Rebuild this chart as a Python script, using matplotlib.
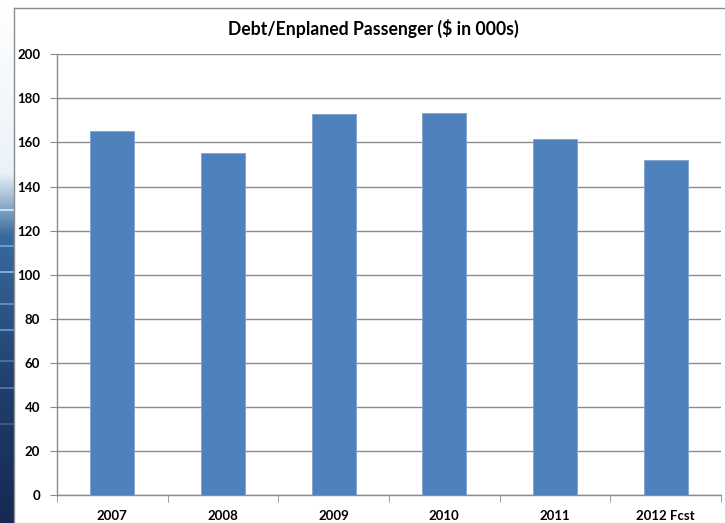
import numpy as np
import matplotlib.pyplot as plt

# Debt per enplaned passenger, $ thousands
years = ['2007', '2008', '2009', '2010', '2011', '2012 Fcst']
debt = [165, 155, 173, 173.5, 161.5, 152]

plt.rcParams['font.family'] = ['Lato', 'DejaVu Sans']
plt.rcParams['font.weight'] = 'bold'

fig = plt.figure(figsize=(7.25, 5.23), dpi=100)
fig.patch.set_facecolor('white')

# slide background strip on the left edge
bg = fig.add_axes([0, 0, 14 / 725, 1])
rows = np.linspace(0, 1, 523)
stops = [0, 0.33, 0.45, 0.75, 1]
r = np.interp(rows, stops, [1.0, 0.92, 0.22, 0.12, 0.09])
g = np.interp(rows, stops, [1.0, 0.95, 0.42, 0.24, 0.16])
b = np.interp(rows, stops, [1.0, 0.98, 0.62, 0.42, 0.33])
grad = np.dstack([r, g, b]).reshape(523, 1, 3).repeat(14, axis=1)
for y0, a in ((0.40, 0.25), (0.47, 0.2), (0.52, 0.3), (0.58, 0.2),
              (0.63, 0.25), (0.69, 0.15), (0.74, 0.2), (0.81, 0.12)):
    k = int(y0 * 523)
    grad[k:k + 2] = np.minimum(grad[k:k + 2] + a, 1)
bg.imshow(grad, aspect='auto', extent=[0, 1, 1, 0], interpolation='bilinear')
bg.set_xlim(0, 1)
bg.set_ylim(1, 0)
bg.axis('off')

# chart frame
frame = fig.add_axes([14 / 725, -0.01, 1.0, 1 - 7.5 / 523 + 0.01])
frame.set_facecolor('white')
frame.set_xticks([])
frame.set_yticks([])
for s in frame.spines.values():
    s.set_color('#8c8c8c')
    s.set_linewidth(1.0)

ax = fig.add_axes([57 / 725, 28 / 523, 664 / 725, 440.7 / 523])
ax.set_facecolor('none')
x = np.arange(len(years))
ax.bar(x, debt, width=0.4, color='#4F81BD', edgecolor='#7fa3d0',
       linewidth=0.6, zorder=3)

ax.set_xlim(-0.5, len(years) - 0.5)
ax.set_ylim(0, 200)
ax.set_yticks(range(0, 201, 20))
ax.yaxis.grid(True, color='#8c8c8c', linewidth=1.0, zorder=0)
ax.set_axisbelow(True)

ax.set_xticks(x)
ax.set_xticklabels(years, fontsize=9.5, fontweight='bold')
ax.set_xticks(np.arange(-0.5, len(years)), minor=True)
ax.tick_params(axis='x', which='major', length=0, pad=11)
ax.tick_params(axis='x', which='minor', length=5, color='#8c8c8c')
ax.tick_params(axis='y', length=5, color='#8c8c8c', labelsize=9.5, pad=7)
for lbl in ax.get_yticklabels():
    lbl.set_fontweight('bold')

for side in ('top', 'right'):
    ax.spines[side].set_visible(False)
for side in ('left', 'bottom'):
    ax.spines[side].set_color('#8c8c8c')
    ax.spines[side].set_linewidth(1.0)

fig.text(373 / 725, 1 - 28 / 523, 'Debt/Enplaned Passenger ($ in 000s)',
         ha='center', va='center', fontsize=12.7, fontweight='bold')

fig.savefig('out.png', dpi=100)
